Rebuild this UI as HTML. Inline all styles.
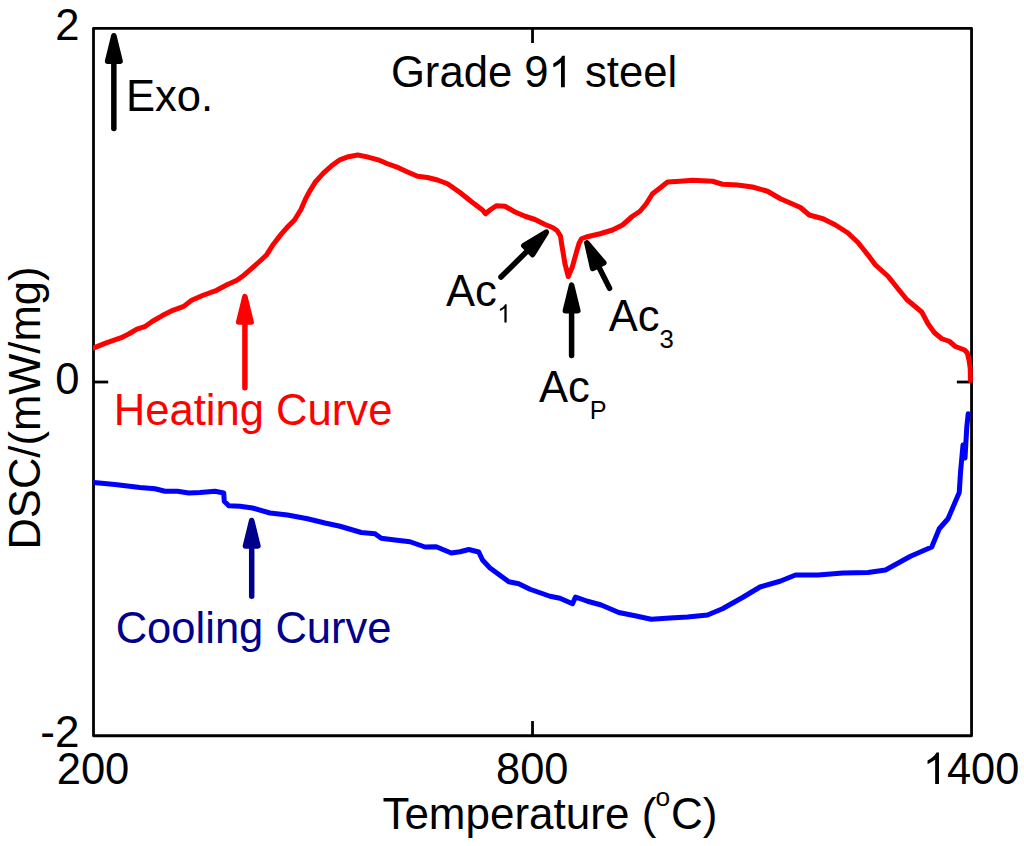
<!DOCTYPE html>
<html><head><meta charset="utf-8">
<style>
html,body{margin:0;padding:0;background:#fff;}
body{width:1024px;height:846px;overflow:hidden;}
svg{display:block;}
text{font-family:"Liberation Sans",sans-serif;}
</style></head><body>
<svg width="1024" height="846" viewBox="0 0 1024 846">
<rect width="1024" height="846" fill="#fff"/>
<rect x="93.5" y="28.3" width="878.05" height="707.45" fill="none" stroke="#000" stroke-width="2.8" stroke-linejoin="round"/>
<g stroke="#000" stroke-width="2.8">
<line x1="93.5" y1="382.02" x2="108.2" y2="382.02"/>
<line x1="971.55" y1="382.02" x2="956.8499999999999" y2="382.02"/>
<line x1="532.52" y1="28.3" x2="532.52" y2="43.0"/>
<line x1="532.52" y1="735.75" x2="532.52" y2="721.05"/>
</g>
<clipPath id="cp"><rect x="92.9" y="20" width="880" height="720"/></clipPath>
<path clip-path="url(#cp)" d="M90,349.3 L93.9,347.8 L105.6,343.1 L121.25,337.7 L129.1,333.75 L136.9,329.1 L144.7,326.7 L152.5,321.25 L161.9,315.8 L172.8,310.3 L183.75,306.4 L191.6,300.2 L202.5,295.5 L216.6,290.3 L227.5,284.5 L236.9,280.3 L243.9,275.2 L250,269.9 L257.8,263 L266.4,255.2 L273.4,244.2 L281.25,234.1 L287.5,227 L294.5,220 L300.8,209.8 L305.5,198.9 L310.2,190.3 L315.6,181.7 L323.4,173.1 L331.25,166.1 L339.8,159.8 L348.4,156.7 L357.8,155 L367.2,156.9 L378.1,159.8 L387.5,163.75 L398.4,167.7 L407,171.8 L417.5,176.25 L427.5,177.5 L437.5,180 L447.5,183.75 L460,192.5 L472.5,202.5 L482.5,210 L485.5,213.75 L490,210 L496.25,205.75 L505,206.25 L515,212 L525,216.25 L535,219.5 L545,224.5 L552.5,227.5 L557,230.5 L560.5,236 L561.5,243 L565,264 L568.3,276.5 L572.3,267 L576.5,252 L579,243.5 L581.5,238.75 L586.25,237 L600,233.75 L612.5,230 L622.5,225 L632.5,216.25 L640,211.25 L646.25,203.75 L652.5,193.75 L660,188 L667.5,182 L680,181.25 L692.5,180.25 L712.5,181.25 L722.5,184.25 L737.5,185 L752.5,187 L767.5,191.25 L780.5,198.75 L800.5,207.5 L809.25,215 L823,218.75 L835.5,225 L848,233 L858,242.5 L868,255 L875.5,265 L888,276.25 L898,288.75 L906.75,299.5 L921.75,312 L928,323.75 L934.25,332.5 L941.75,338.75 L949.25,341.25 L955.4,346.5 L964.6,350 L967.3,353 L969.2,360.8 L970.2,368.5 L970.4,380.8" fill="none" stroke="#ff0000" stroke-width="5" stroke-linejoin="round" stroke-linecap="round"/>
<path clip-path="url(#cp)" d="M90,482.15 L93.75,482.5 L115,484.5 L140,487.5 L155,488.75 L165,491.25 L177.5,491.25 L188.75,493 L200,492.5 L215,491.25 L223.75,493 L224.25,501.25 L228.75,505.75 L240,506.25 L252.5,508 L270,513 L287.5,515 L307.5,518.75 L325,523 L340,526.25 L361.25,532.5 L375,533.75 L381.25,538.25 L395,540 L410,541.75 L425,547 L436.25,546.75 L451.25,553 L460,551.75 L468.75,549.5 L478.75,552 L482.5,560 L490,568 L508.75,581.75 L518.75,583.75 L530,589.25 L550,596.25 L560,598.25 L572.5,603.75 L575.5,597 L587.5,601.25 L601.25,605 L618.75,612.5 L635,615.75 L651.25,619.25 L670,618 L687.5,617 L707.5,615 L722.5,608.75 L742.5,597.5 L760,587 L780,581.25 L795.5,575 L818,575 L843,573 L868,572.5 L885.5,570 L910.5,556.25 L931.75,547 L939.25,528.75 L948,518.75 L959.25,492.5 L960.5,472.5 L963,445 L965,458 L966.75,427.5 L968.2,413.7" fill="none" stroke="#0000ff" stroke-width="5" stroke-linejoin="round" stroke-linecap="round"/>
<line x1="113.85" y1="128.55" x2="113.85" y2="61.25" stroke="#000" stroke-width="5.5" stroke-linecap="round"/>
<polygon points="113.85,35.75 120.10,61.25 107.60,61.25" fill="#000" stroke="#000" stroke-width="5.5" stroke-linejoin="round"/>
<line x1="244.90" y1="387.85" x2="244.90" y2="322.05" stroke="#ff0000" stroke-width="5.5" stroke-linecap="round"/>
<polygon points="244.90,296.55 251.15,322.05 238.65,322.05" fill="#ff0000" stroke="#ff0000" stroke-width="5.5" stroke-linejoin="round"/>
<line x1="251.70" y1="596.15" x2="251.70" y2="545.95" stroke="#00008b" stroke-width="5.5" stroke-linecap="round"/>
<polygon points="251.70,520.45 257.95,545.95 245.45,545.95" fill="#00008b" stroke="#00008b" stroke-width="5.5" stroke-linejoin="round"/>
<line x1="500.96" y1="276.97" x2="528.18" y2="250.13" stroke="#000" stroke-width="5.5" stroke-linecap="round"/>
<polygon points="546.34,232.23 532.57,254.58 523.79,245.68" fill="#000" stroke="#000" stroke-width="5.5" stroke-linejoin="round"/>
<line x1="571.60" y1="355.55" x2="571.60" y2="310.65" stroke="#000" stroke-width="5.5" stroke-linecap="round"/>
<polygon points="571.60,285.15 577.85,310.65 565.35,310.65" fill="#000" stroke="#000" stroke-width="5.5" stroke-linejoin="round"/>
<line x1="609.57" y1="288.34" x2="598.23" y2="265.67" stroke="#000" stroke-width="5.5" stroke-linecap="round"/>
<polygon points="586.83,242.86 603.82,262.87 592.64,268.46" fill="#000" stroke="#000" stroke-width="5.5" stroke-linejoin="round"/>
<text transform="translate(79.40 40.30) scale(0.99 1)" font-size="44" text-anchor="end" fill="#000">2</text>
<text transform="translate(79.40 393.60) scale(0.99 1)" font-size="44" text-anchor="end" fill="#000">0</text>
<text transform="translate(79.40 747.20) scale(1.0 1)" font-size="44" text-anchor="end" fill="#000">-2</text>
<text transform="translate(93.00 784.10) scale(0.99 1)" font-size="44" text-anchor="middle" fill="#000">200</text>
<text transform="translate(532.20 784.10) scale(0.986 1)" font-size="44" text-anchor="middle" fill="#000">800</text>
<path transform="translate(922.81 784.10) scale(0.021184 -0.021484)" d="M763 0H583V1147Q518 1085 412.5 1023T223 930V1104Q373 1174.5 485 1275T644 1470H763Z" fill="#000"/>
<text transform="translate(946.94 784.10) scale(0.986 1)" font-size="44" text-anchor="start" fill="#000">400</text>
<text transform="translate(382.4 829.0) scale(1.0 1)" font-size="44" fill="#000">Temperature (<tspan font-size="26.3" dy="-23.2" dx="-0.8">o</tspan><tspan dy="23.2" dx="0.9">C)</tspan></text>
<text transform="translate(39.7 549.6) rotate(-90) scale(0.99 1)" font-size="44" fill="#000">DSC/(mW/mg)</text>
<text transform="translate(125.90 110.80) scale(0.991 1)" font-size="44" text-anchor="start" fill="#000">Exo.</text>
<text transform="translate(390.95 87.25) scale(0.9915 1)" font-size="44" text-anchor="start" fill="#000">Grade 9</text>
<path transform="translate(548.57 87.25) scale(0.021302 -0.021484)" d="M763 0H583V1147Q518 1085 412.5 1023T223 930V1104Q373 1174.5 485 1275T644 1470H763Z" fill="#000"/>
<text transform="translate(584.96 87.25) scale(0.9915 1)" font-size="44" text-anchor="start" fill="#000">steel</text>
<text transform="translate(113.65 424.80) scale(0.9916 1)" font-size="44" text-anchor="start" fill="#ff0000">Heating Curve</text>
<text transform="translate(115.65 643.10) scale(0.99 1)" font-size="44" text-anchor="start" fill="#00008b">Cooling Curve</text>
<text transform="translate(445.90 305.70) scale(0.99 1)" font-size="44" text-anchor="start" fill="#000">Ac</text>
<path transform="translate(497.13 322.60) scale(0.012451 -0.012451)" d="M763 0H583V1147Q518 1085 412.5 1023T223 930V1104Q373 1174.5 485 1275T644 1470H763Z" fill="#000"/>
<text transform="translate(608.70 331.00) scale(0.99 1)" font-size="44" text-anchor="start" fill="#000">Ac<tspan font-size="26" dy="17.3">3</tspan></text>
<text transform="translate(538.90 402.40) scale(0.99 1)" font-size="44" text-anchor="start" fill="#000">Ac<tspan font-size="25.5" dy="16.6">P</tspan></text>
</svg>
</body></html>
